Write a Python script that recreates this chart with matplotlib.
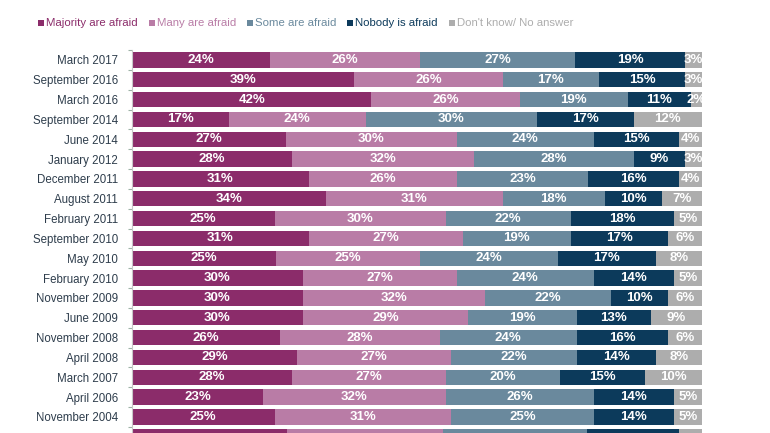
import numpy as np
import matplotlib
matplotlib.use("Agg")
from matplotlib import pyplot as plt
from matplotlib import font_manager
from matplotlib.patches import Rectangle

plt.rcParams['font.family'] = ['Liberation Sans', 'DejaVu Sans']

dates = ["March 2017", "September 2016", "March 2016", "September 2014", "June 2014",
         "January 2012", "December 2011", "August 2011", "February 2011", "September 2010",
         "May 2010", "February 2010", "November 2009", "June 2009", "November 2008",
         "April 2008", "March 2007", "April 2006", "November 2004", "(earlier)"]

majority = [24, 39, 42, 17, 27, 28, 31, 34, 25, 31, 25, 30, 30, 30, 26, 29, 28, 23, 25, 27]
many     = [26, 26, 26, 24, 30, 32, 26, 31, 30, 27, 25, 27, 32, 29, 28, 27, 27, 32, 31, 27]
some     = [27, 17, 19, 30, 24, 28, 23, 18, 22, 19, 24, 24, 22, 19, 24, 22, 20, 26, 25, 25]
nobody   = [19, 15, 11, 17, 15,  9, 16, 10, 18, 17, 17, 14, 10, 13, 16, 14, 15, 14, 14, 16]
dontknow = [ 3,  3,  2, 12,  4,  3,  4,  7,  5,  6,  8,  5,  6,  9,  6,  8, 10,  5,  5,  4]

series_names = ["Majority are afraid", "Many are afraid", "Some are afraid",
                "Nobody is afraid", "Don't know/ No answer"]
colors = ["#8B2C6A", "#B97CA6", "#6A899D", "#0C3A5B", "#ADADAD"]

vals = np.array([majority, many, some, nobody, dontknow], dtype=float)
shares = vals / vals.sum(axis=0) * 100

# condensed font for the legend if one is available
installed = {f.name for f in font_manager.fontManager.ttflist}
if 'Liberation Sans Narrow' in installed:
    leg_font = {'family': 'Liberation Sans Narrow', 'size': 9.5}
else:
    leg_font = {'family': 'Liberation Sans', 'size': 8.2}

W, H = 770, 433
fig = plt.figure(figsize=(7.7, 4.33), dpi=100)
ax = fig.add_axes([132/W, 0, 570/W, (H - 50)/H])
ybottom = (H - 60) / 19.83

y = np.arange(len(dates))
left = np.zeros(len(dates))
for k in range(5):
    ax.barh(y, shares[k], left=left, height=0.78, color=colors[k], edgecolor='none')
    for i in range(len(dates)):
        if y[i] > ybottom:
            continue
        ax.text(left[i] + shares[k][i] / 2, y[i], f"{int(vals[k][i])}%",
                ha='center', va='center', color='white', fontsize=9.5,
                fontweight='bold')
    left += shares[k]

ax.set_yticks(y)
ax.set_yticklabels(dates, fontsize=8.3, color='#2E3D4C')
ax.tick_params(axis='y', which='major', length=0, pad=10)
ax.set_yticks(np.arange(-0.5, len(dates), 1), minor=True)
ax.tick_params(axis='y', which='minor', length=3, width=0.8, color='#9DB3A6')
ax.set_xticks([])
ax.set_xlim(0, 100)
ax.set_ylim(ybottom, -0.5)
for s in ['top', 'right', 'bottom']:
    ax.spines[s].set_visible(False)
ax.spines['left'].set_color('#C8C8C8')
ax.spines['left'].set_linewidth(0.8)

# legend row: square + coloured text, laid out left to right
renderer = fig.canvas.get_renderer()
x0 = 38
for name, c in zip(series_names, colors):
    fig.add_artist(Rectangle((x0 / W, 1 - 26/H), 6/W, 6/H, transform=fig.transFigure,
                             facecolor=c, edgecolor='none'))
    t = fig.text((x0 + 8) / W, 1 - 23/H, name, color=c, va='center', ha='left', **leg_font)
    x0 = x0 + 8 + t.get_window_extent(renderer).width + 11

fig.savefig("out.png", dpi=100)
